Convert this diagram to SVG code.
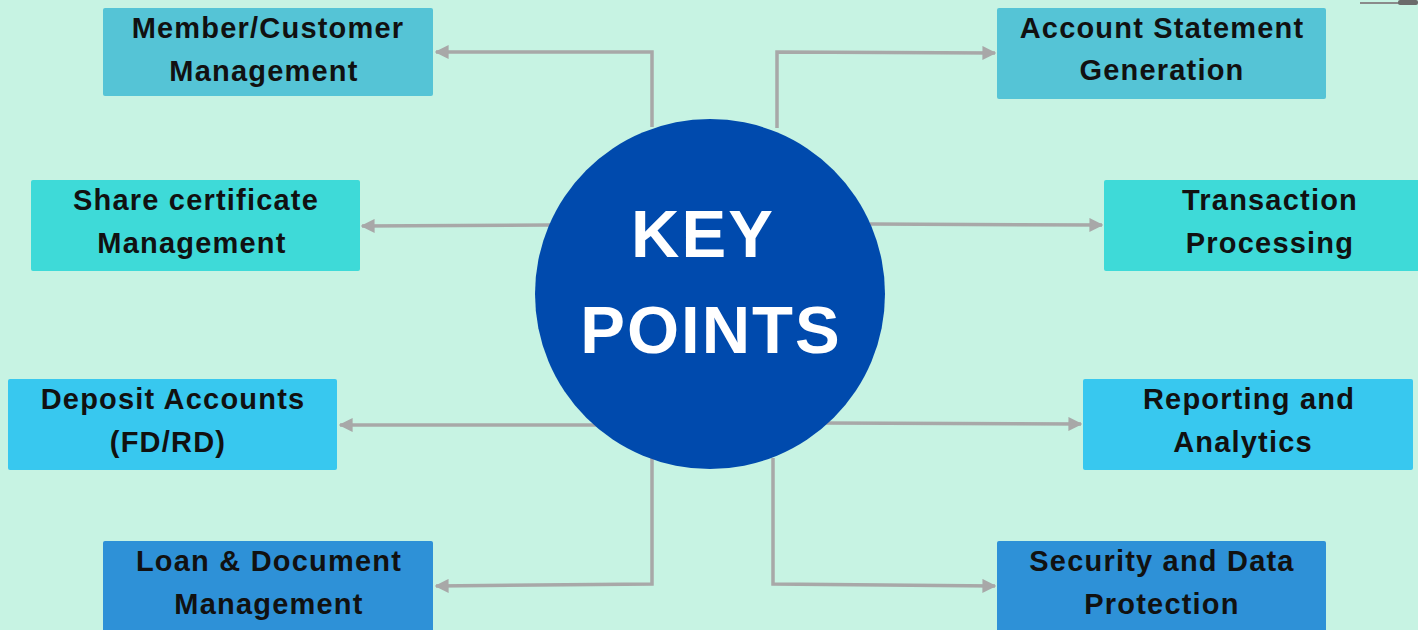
<svg xmlns="http://www.w3.org/2000/svg" width="1418" height="630" viewBox="0 0 1418 630">
<style>
.bg{fill:#C7F3E3}
.b1{fill:#55C4D6}
.b2{fill:#3EDAD8}
.b3{fill:#38C8EF}
.b4{fill:#2E91D7}
.lbl{font-family:"Liberation Sans",Arial,sans-serif;font-weight:bold;font-size:29px;letter-spacing:1.2px;fill:#111;text-anchor:middle}
.key{font-family:"Liberation Sans",Arial,sans-serif;font-weight:bold;font-size:67px;letter-spacing:2px;fill:#fff;text-anchor:middle}
.con{fill:none;stroke:#A8A8A8;stroke-width:3.5}
</style>
<defs>
<marker id="arr" viewBox="0 0 10 10" refX="9" refY="5" markerWidth="4" markerHeight="4" markerUnits="strokeWidth" orient="auto">
<path d="M0,0 L10,5 L0,10 Z" fill="#A8A8A8"/>
</marker>
</defs>
<rect class="bg" x="0" y="0" width="1418" height="630"/>
<g id="corner">
<line x1="1360" y1="3" x2="1400" y2="3" stroke="#8a8a8a" stroke-width="2"/>
<rect x="1398" y="0" width="20" height="5" rx="2" fill="#6b6b6b"/>
</g>
<g id="connectors">
<polyline class="con" points="652,127 652,52 436,52" marker-end="url(#arr)"/>
<polyline class="con" points="777,128 777,52 995,53" marker-end="url(#arr)"/>
<polyline class="con" points="550,225 362,226" marker-end="url(#arr)"/>
<polyline class="con" points="870,224 1102,225" marker-end="url(#arr)"/>
<polyline class="con" points="598,425 340,425" marker-end="url(#arr)"/>
<polyline class="con" points="822,423 1081,424" marker-end="url(#arr)"/>
<polyline class="con" points="652,458 652,584 436,586" marker-end="url(#arr)"/>
<polyline class="con" points="773,458 773,584 995,586" marker-end="url(#arr)"/>
</g>
<g id="center">
<circle cx="710" cy="294" r="175" fill="#004AAD"/>
<text class="key" x="703" y="257">KEY</text>
<text class="key" x="711" y="353">POINTS</text>
</g>
<g id="member">
<rect class="b1" x="103" y="8" width="330" height="88" rx="2"/>
<text class="lbl" x="268" y="38">Member/Customer</text>
<text class="lbl" x="264" y="81">Management</text>
</g>
<g id="account">
<rect class="b1" x="997" y="8" width="329" height="91" rx="2"/>
<text class="lbl" x="1162" y="38">Account Statement</text>
<text class="lbl" x="1162" y="80">Generation</text>
</g>
<g id="share">
<rect class="b2" x="31" y="180" width="329" height="91" rx="2"/>
<text class="lbl" x="196" y="210">Share certificate</text>
<text class="lbl" x="192" y="253">Management</text>
</g>
<g id="transaction">
<rect class="b2" x="1104" y="180" width="316" height="91" rx="2"/>
<text class="lbl" x="1270" y="210">Transaction</text>
<text class="lbl" x="1270" y="253">Processing</text>
</g>
<g id="deposit">
<rect class="b3" x="8" y="379" width="329" height="91" rx="2"/>
<text class="lbl" x="173" y="409">Deposit Accounts</text>
<text class="lbl" x="168" y="452">(FD/RD)</text>
</g>
<g id="reporting">
<rect class="b3" x="1083" y="379" width="330" height="91" rx="2"/>
<text class="lbl" x="1249" y="409">Reporting and</text>
<text class="lbl" x="1243" y="452">Analytics</text>
</g>
<g id="loan">
<rect class="b4" x="103" y="541" width="330" height="95" rx="2"/>
<text class="lbl" x="269" y="571">Loan &amp; Document</text>
<text class="lbl" x="269" y="614">Management</text>
</g>
<g id="security">
<rect class="b4" x="997" y="541" width="329" height="95" rx="2"/>
<text class="lbl" x="1162" y="571">Security and Data</text>
<text class="lbl" x="1162" y="614">Protection</text>
</g>
</svg>
